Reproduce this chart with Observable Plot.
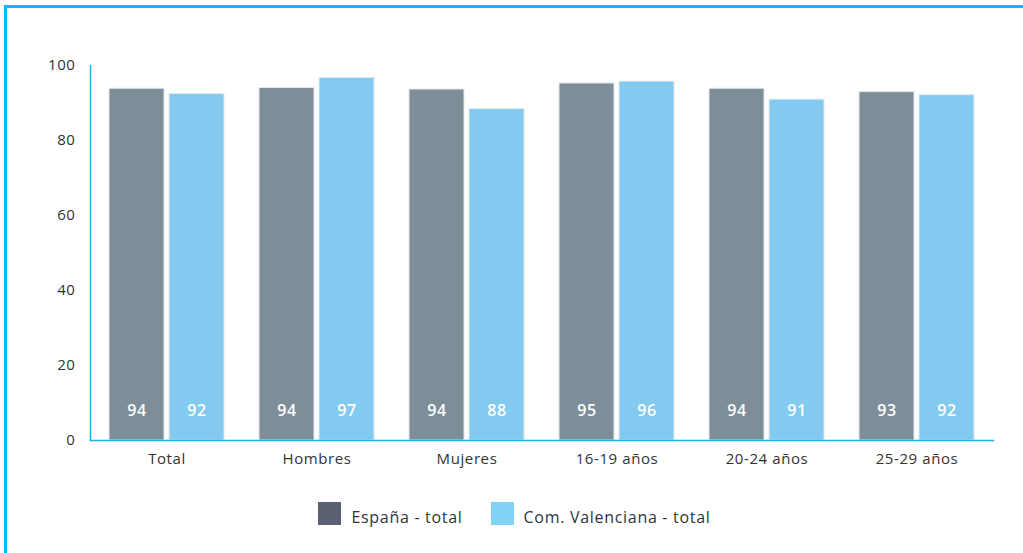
<!DOCTYPE html>
<html>
<head>
<meta charset="utf-8">
<script src="https://cdn.jsdelivr.net/npm/d3@7"></script>
<script src="https://cdn.jsdelivr.net/npm/@observablehq/plot@0.6"></script>
<style>
  html, body { margin: 0; padding: 0; background: #fff; width: 1023px; height: 553px; overflow: hidden; }
  #border { position: absolute; left: 4px; top: 5px; width: 1100px; height: 600px; border-left: 3px solid #00bdf2; border-top: 3px solid #00bdf2; }
  #chart { position: absolute; left: 0; top: 0; }
  #legend { position: absolute; top: 502px; left: 0; width: 1023px; display: flex; justify-content: center; align-items: flex-end; font-family: "Open Sans", sans-serif; font-size: 16px; letter-spacing: 0.7px; color: #2f3340; padding-left: 6px; box-sizing: border-box; }
  .item { display: flex; align-items: flex-end; margin: 0 14px; }
  .sw { width: 23px; height: 23px; margin-right: 10px; }
  .lbl { line-height: 16px; margin-bottom: 0px; }
</style>
</head>
<body>
<div id="border"></div>
<div id="chart"></div>
<div id="legend"></div>
<script>
const categories = ["Total", "Hombres", "Mujeres", "16-19 años", "20-24 años", "25-29 años"];
const series = ["España - total", "Com. Valenciana - total"];
const espana = [93.8, 94.0, 93.6, 95.2, 93.8, 92.9];
const valenciana = [92.4, 96.7, 88.4, 95.7, 90.9, 92.1];
const yTicks = [0, 20, 40, 60, 80, 100];
const barColors = ["#7d8e99", "#82caef"];
const legendColors = ["#5b6170", "#82d2f5"];

const dataE = categories.map((c, i) => ({category: c, value: espana[i]}));
const dataV = categories.map((c, i) => ({category: c, value: valenciana[i]}));

const axisColor = "#22aee6";
const font = "'Open Sans', sans-serif";

const plot = Plot.plot({
  width: 1023,
  height: 480,
  marginLeft: 90,
  marginRight: 30,
  marginTop: 65,
  marginBottom: 40,
  style: {fontFamily: font, fontSize: "15px", color: "#333", background: "transparent", letterSpacing: "0.6px"},
  x: {domain: categories, paddingInner: 0.236, paddingOuter: 0.118, label: null, tickSize: 0, tickPadding: 13},
  y: {domain: [0, 100], ticks: yTicks, label: null, tickSize: 0, tickPadding: 15},
  marks: [
    Plot.barY(dataE, {x: "category", y: "value", fill: barColors[0], stroke: "#e4e9ec", strokeWidth: 1, insetRight: 60}),
    Plot.barY(dataV, {x: "category", y: "value", fill: barColors[1], stroke: "#e4e9ec", strokeWidth: 1, insetLeft: 60}),
    Plot.text(dataE, {x: "category", y: 8, text: d => d3.format(".0f")(d.value), dx: -30, fill: "white", fontSize: 16, fontWeight: 600}),
    Plot.text(dataV, {x: "category", y: 8, text: d => d3.format(".0f")(d.value), dx: 30, fill: "white", fontSize: 16, fontWeight: 600}),
    Plot.frame({anchor: "left", stroke: axisColor, strokeWidth: 1.5}),
    Plot.frame({anchor: "bottom", stroke: axisColor, strokeWidth: 1.5})
  ]
});
document.getElementById("chart").appendChild(plot);

const legend = document.getElementById("legend");
series.forEach((s, i) => {
  const item = document.createElement("div");
  item.className = "item";
  const sw = document.createElement("div");
  sw.className = "sw";
  sw.style.background = legendColors[i];
  const lbl = document.createElement("span");
  lbl.className = "lbl";
  lbl.textContent = s;
  item.appendChild(sw);
  item.appendChild(lbl);
  legend.appendChild(item);
});
</script>
</body>
</html>
